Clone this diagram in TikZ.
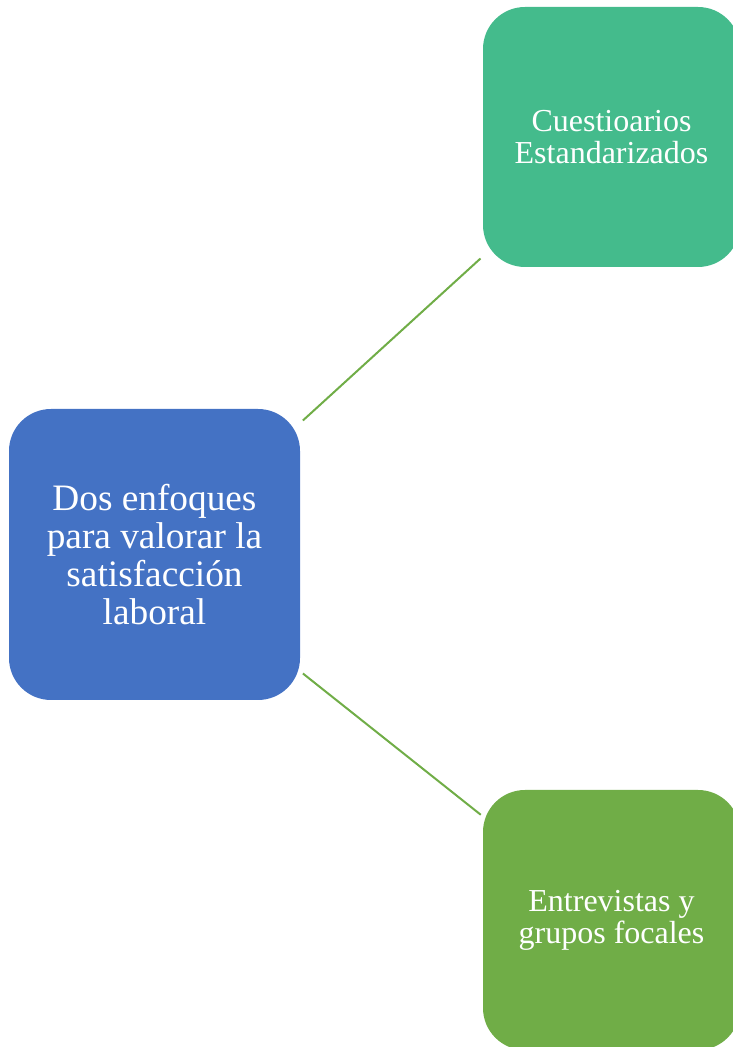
\documentclass[tikz,border=0pt]{standalone}
\usepackage{fontspec}
\setmainfont{Liberation Serif}
\definecolor{cblue}{HTML}{4472C4}
\definecolor{cteal}{HTML}{44BB8C}
\definecolor{cgreen}{HTML}{70AD47}
\begin{document}
\begin{tikzpicture}[x=1pt,y=1pt,
  box/.style={rounded corners=42pt, inner sep=0pt, align=center, text=white},
  bigbox/.style={box, fill=cblue, minimum width=291pt, minimum height=291pt,
    font=\fontsize{37.3}{38}\selectfont},
  smallbox/.style={box, minimum width=257pt, minimum height=260pt,
    font=\fontsize{32}{32}\selectfont},
  link/.style={draw=cgreen, line width=2pt}]
\useasboundingbox (0,0) rectangle (732,1047);
\node[bigbox] (main) at (154.5,492.5) {Dos enfoques\\para valorar la\\satisfacción\\laboral};
\node[smallbox, fill=cteal] (top) at (611.5,910) {Cuestioarios\\Estandarizados};
\node[smallbox, fill=cgreen] (bot) at (611.5,127) {Entrevistas y\\grupos focales};
\draw[link] ([shift={(2.7,-11.7)}]main.north east) -- ([shift={(-2.3,8.7)}]top.south west);
\draw[link] ([shift={(2.7,26.7)}]main.south east) -- ([shift={(-2,-25)}]bot.north west);
\end{tikzpicture}
\end{document}
